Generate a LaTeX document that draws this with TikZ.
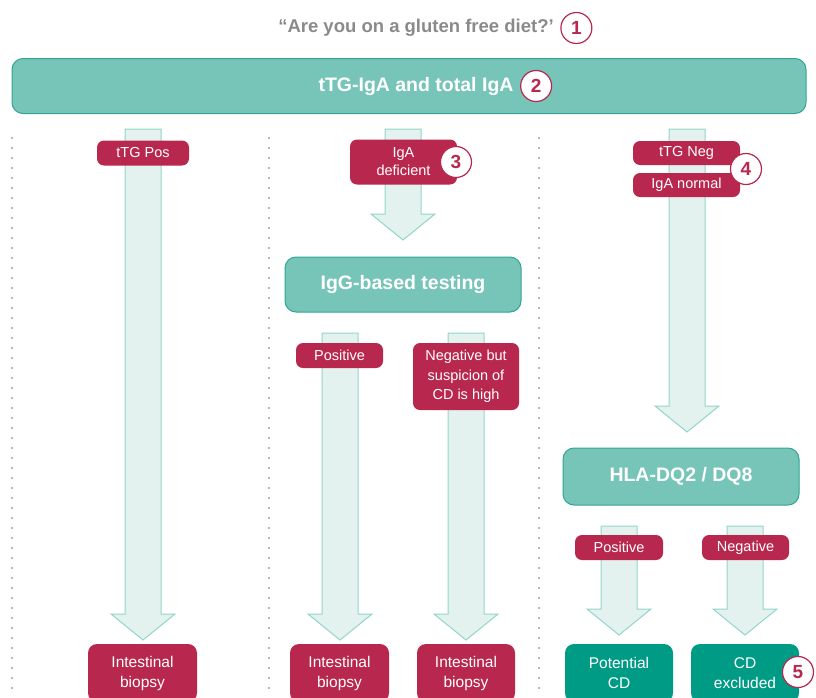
\documentclass[tikz,border=0pt]{standalone}
\usepackage{fontspec}
\setmainfont{Liberation Sans}
\usepackage{xcolor}
\usetikzlibrary{calc,positioning,backgrounds}
\definecolor{berry}{HTML}{B8284E}
\definecolor{mint}{HTML}{77C4B8}
\definecolor{mintline}{HTML}{2FA693}
\definecolor{pale}{HTML}{E4F2EF}
\definecolor{paleline}{HTML}{92D5CB}
\definecolor{deepteal}{HTML}{009B84}
\definecolor{greytext}{HTML}{8A8A8A}
\definecolor{dotgrey}{HTML}{A0A0A0}

% block arrow from a named top point to a named tip
\newcommand{\flowarrow}[2]{%
 \draw[flow] let \p1=(#1), \p2=(#2) in
 (\x1-18pt,\y1) -- (\x1+18pt,\y1) -- (\x1+18pt,\y2+26pt) -- (\x1+32pt,\y2+26pt)
 -- (\x1,\y2) -- (\x1-32pt,\y2+26pt) -- (\x1-18pt,\y2+26pt) -- cycle;}

\begin{document}
\begin{tikzpicture}[x=1pt,y=-1pt,
 tag/.style={fill=berry,text=white,rounded corners=7pt,align=center,inner sep=1pt,font=\fontsize{14.5}{17}\selectfont},
 stage/.style={draw=mintline,fill=mint,line width=1pt,rounded corners=11pt},
 stagetext/.style={text=white,font=\bfseries\fontsize{19.5}{22}\selectfont},
 outcome/.style={tag,rounded corners=9pt,minimum height=58pt,font=\fontsize{15.5}{20}\selectfont},
 num/.style={circle,draw=berry,fill=white,line width=1.2pt,text=berry,minimum size=31pt,inner sep=0pt,font=\bfseries\fontsize{19}{19}\selectfont},
 flow/.style={draw=paleline,fill=pale,line width=1pt},
 divider/.style={draw=dotgrey,line width=2.3pt,line cap=round,dash pattern=on 0pt off 10pt}]
\useasboundingbox (0,0) rectangle (816,697);

% header
\node[text=greytext,font=\bfseries\fontsize{18.5}{20}\selectfont] (question) at (416,28) {“Are you on a gluten free diet?’};
\node[num,right=3pt of question] (n1) {1};
\node[stage,minimum width=794pt,minimum height=55pt] (bar) at (409,86) {};
\node[stagetext] (bartext) at (416,86) {tTG-IgA and total IgA};
\node[num,right=3pt of bartext] (n2) {2};

% column dividers
\draw[divider] (12,138) -- (12,697);
\draw[divider] (269,138) -- (269,697);
\draw[divider] (539,138) -- (539,697);

% arrow end points
\coordinate (s1) at (143,129);   \coordinate (t1) at (143,640);
\coordinate (s2) at (403,129);   \coordinate (t2) at (403,240);
\coordinate (s2a) at (340,333);  \coordinate (t2a) at (340,640);
\coordinate (s2b) at (466,333);  \coordinate (t2b) at (466,640);
\coordinate (s3) at (687,129);   \coordinate (t3) at (687,432);
\coordinate (s3a) at (619,526);  \coordinate (t3a) at (619,635);
\coordinate (s3b) at (745,526);  \coordinate (t3b) at (745,635);
\flowarrow{s1}{t1}
\flowarrow{s2}{t2}
\flowarrow{s2a}{t2a}
\flowarrow{s2b}{t2b}
\flowarrow{s3}{t3}
\flowarrow{s3a}{t3a}
\flowarrow{s3b}{t3b}

% left column
\node[tag,minimum width=92pt,minimum height=25pt] (ttgpos) at (143,153) {tTG Pos};
\node[outcome,minimum width=109pt] (biopsyA) at (142.5,673) {Intestinal\\biopsy};

% middle column
\node[tag,minimum width=107pt,minimum height=45pt,font=\fontsize{14.5}{18}\selectfont] (igadef) at (403.5,162) {IgA\\deficient};
\node[num] (n3) at (456,162) {3};
\node[stage,minimum width=236pt,minimum height=55pt] (iggtest) at (403,284.5) {};
\node[stagetext] at (iggtest) {IgG-based testing};
\node[tag,minimum width=87pt,minimum height=25pt] (iggpos) at (339.5,355.5) {Positive};
\node[tag,minimum width=106pt,minimum height=67pt,font=\fontsize{14.5}{19.5}\selectfont] (iggneg) at (466,376.5) {Negative but\\suspicion of\\CD is high};
\node[outcome,minimum width=99pt] (biopsyB) at (339.5,673) {Intestinal\\biopsy};
\node[outcome,minimum width=98pt] (biopsyC) at (466,673) {Intestinal\\biopsy};

% right column
\node[tag,minimum width=107pt,minimum height=24pt] (ttgneg) at (686.5,153) {tTG Neg};
\node[tag,minimum width=107pt,minimum height=24pt] (iganorm) at (686.5,185) {IgA normal};
\node[num] (n4) at (746,169) {4};
\node[stage,minimum width=236pt,minimum height=57pt] (hla) at (681,476.5) {};
\node[stagetext] at (hla) {HLA-DQ2 / DQ8};
\node[tag,minimum width=88pt,minimum height=25pt] (hlapos) at (619,547.5) {Positive};
\node[tag,minimum width=87pt,minimum height=25pt] (hlaneg) at (745.5,547.5) {Negative};
\node[outcome,fill=deepteal,minimum width=108pt] (potential) at (619,673) {Potential\\CD};
\node[outcome,fill=deepteal,minimum width=108pt] (excluded) at (745,673) {CD\\excluded};
\node[num] (n5) at (798,672) {5};
\end{tikzpicture}
\end{document}
